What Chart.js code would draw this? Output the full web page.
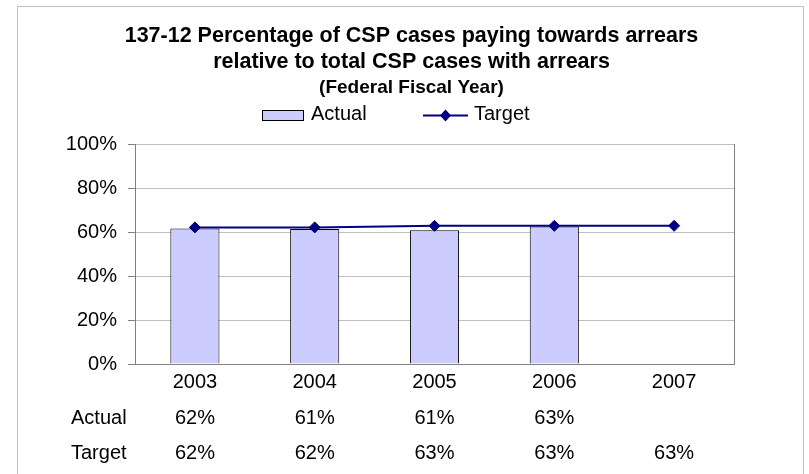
<!DOCTYPE html>
<html>
<head>
<meta charset="utf-8">
<script src="https://cdn.jsdelivr.net/npm/chart.js@4.4.1/dist/chart.umd.min.js"></script>
<style>
  html, body { margin: 0; padding: 0; background: #fff; }
  #wrap { width: 809px; height: 474px; }
</style>
</head>
<body>
<div id="wrap"><canvas id="chart" width="809" height="474"></canvas></div>
<script>
const years = ['2003', '2004', '2005', '2006', '2007'];
const actual = [61.6, 61.4, 60.8, 62.5, null];
const target = [62.1, 62.1, 62.8, 62.8, 62.8];
const actualText = ['62%', '61%', '61%', '63%', ''];
const targetText = ['62%', '62%', '63%', '63%', '63%'];
const yTicks = [0, 20, 40, 60, 80, 100];

const FONT = "'Liberation Sans', Arial, sans-serif";

// outer frame of the chart object
const framePlugin = {
    id: 'frame',
    beforeDraw(chart) {
        const c = chart.ctx;
        c.save();
        c.fillStyle = '#fff';
        c.fillRect(0, 0, chart.width, chart.height);
        c.strokeStyle = '#c0c0c0';
        c.lineWidth = 1;
        c.strokeRect(17.5, 6.5, 786, 520);
        c.restore();
    }
};

// legend drawn by hand: a box for the bars, a line with a diamond for the target
const legendPlugin = {
    id: 'customLegend',
    afterDraw(chart) {
        const c = chart.ctx;
        const bar = chart.data.datasets[1];
        const line = chart.data.datasets[0];
        const y = 115;
        c.save();
        c.font = '20px ' + FONT;
        c.textBaseline = 'middle';
        c.textAlign = 'left';

        c.fillStyle = bar.backgroundColor;
        c.fillRect(262, 110, 42, 11);
        c.strokeStyle = bar.borderColor;
        c.lineWidth = 1;
        c.strokeRect(262.5, 110.5, 41, 10);
        c.fillStyle = '#000';
        c.fillText(bar.label, 311, 114);

        c.strokeStyle = line.borderColor;
        c.lineWidth = 2;
        c.beginPath();
        c.moveTo(423, y + 0.5);
        c.lineTo(468, y + 0.5);
        c.stroke();
        c.fillStyle = line.pointBackgroundColor;
        c.beginPath();
        c.moveTo(445.5, y - 5.5);
        c.lineTo(451, y + 0.5);
        c.lineTo(445.5, y + 6.5);
        c.lineTo(440, y + 0.5);
        c.closePath();
        c.fill();
        c.fillStyle = '#000';
        c.fillText(line.label, 474, 114);
        c.restore();
    }
};

// data table under the x axis
const tablePlugin = {
    id: 'dataTable',
    afterDraw(chart) {
        const c = chart.ctx;
        const xs = chart.scales.x;
        const rows = [
            { label: 'Actual', values: actualText },
            { label: 'Target', values: targetText }
        ];
        c.save();
        c.font = '20px ' + FONT;
        c.fillStyle = '#000';
        c.textBaseline = 'middle';
        rows.forEach((r, k) => {
            const y = xs.bottom + 24 + k * 35;
            c.textAlign = 'left';
            c.fillText(r.label, 71, y);
            c.textAlign = 'center';
            r.values.forEach((v, i) => {
                if (v) c.fillText(v, xs.getPixelForValue(i), y);
            });
        });
        c.restore();
    }
};

const ctx = document.getElementById('chart').getContext('2d');

new Chart(ctx, {
    data: {
        labels: years,
        datasets: [{
            type: 'line',
            label: 'Target',
            data: target,
            borderColor: '#000080',
            borderWidth: 2,
            pointStyle: 'rectRot',
            pointRadius: 5.5,
            pointBackgroundColor: '#000080',
            pointBorderColor: '#000080',
            pointBorderWidth: 1,
            tension: 0,
            order: 0
        }, {
            type: 'bar',
            label: 'Actual',
            data: actual,
            backgroundColor: '#ccccff',
            borderColor: '#000000',
            borderWidth: 1,
            barPercentage: 0.41,
            categoryPercentage: 1,
            order: 1
        }]
    },
    options: {
        responsive: false,
        animation: false,
        events: [],
        layout: {
            padding: { left: 14, right: 0, top: 0, bottom: 80 }
        },
        plugins: {
            legend: { display: false },
            tooltip: { enabled: false },
            title: {
                display: true,
                text: ['137-12 Percentage of CSP cases paying towards arrears',
                       'relative to total CSP cases with arrears'],
                color: '#000',
                font: { family: FONT, size: 21.5, weight: 'bold', lineHeight: 26 / 21.5 },
                padding: { top: 23, bottom: 0 }
            },
            subtitle: {
                display: true,
                text: '(Federal Fiscal Year)',
                color: '#000',
                font: { family: FONT, size: 19, weight: 'bold', lineHeight: 26 / 19 },
                padding: { top: 0, bottom: 43 }
            }
        },
        scales: {
            x: {
                offset: true,
                grid: { display: false, drawTicks: false },
                border: { color: '#808080', width: 1 },
                ticks: {
                    color: '#000',
                    font: { family: FONT, size: 20 },
                    padding: 6,
                    maxRotation: 0
                },
                afterFit(s) { s.height = 30; }
            },
            y: {
                min: 0,
                max: 100,
                afterBuildTicks(s) { s.ticks = yTicks.map(v => ({ value: v })); },
                grid: {
                    color: '#c0c0c0',
                    tickColor: '#808080',
                    tickLength: 7
                },
                border: { color: '#808080', width: 1 },
                ticks: {
                    color: '#000',
                    font: { family: FONT, size: 20 },
                    padding: 11,
                    callback: v => v + '%'
                },
                afterFit(s) { s.width = 121; }
            },
            y2: {
                position: 'right',
                min: 0,
                max: 100,
                grid: { display: false, drawTicks: false },
                border: { color: '#808080', width: 1 },
                ticks: { display: false },
                afterFit(s) { s.width = 75; }
            }
        }
    },
    plugins: [framePlugin, legendPlugin, tablePlugin]
});
</script>
</body>
</html>
